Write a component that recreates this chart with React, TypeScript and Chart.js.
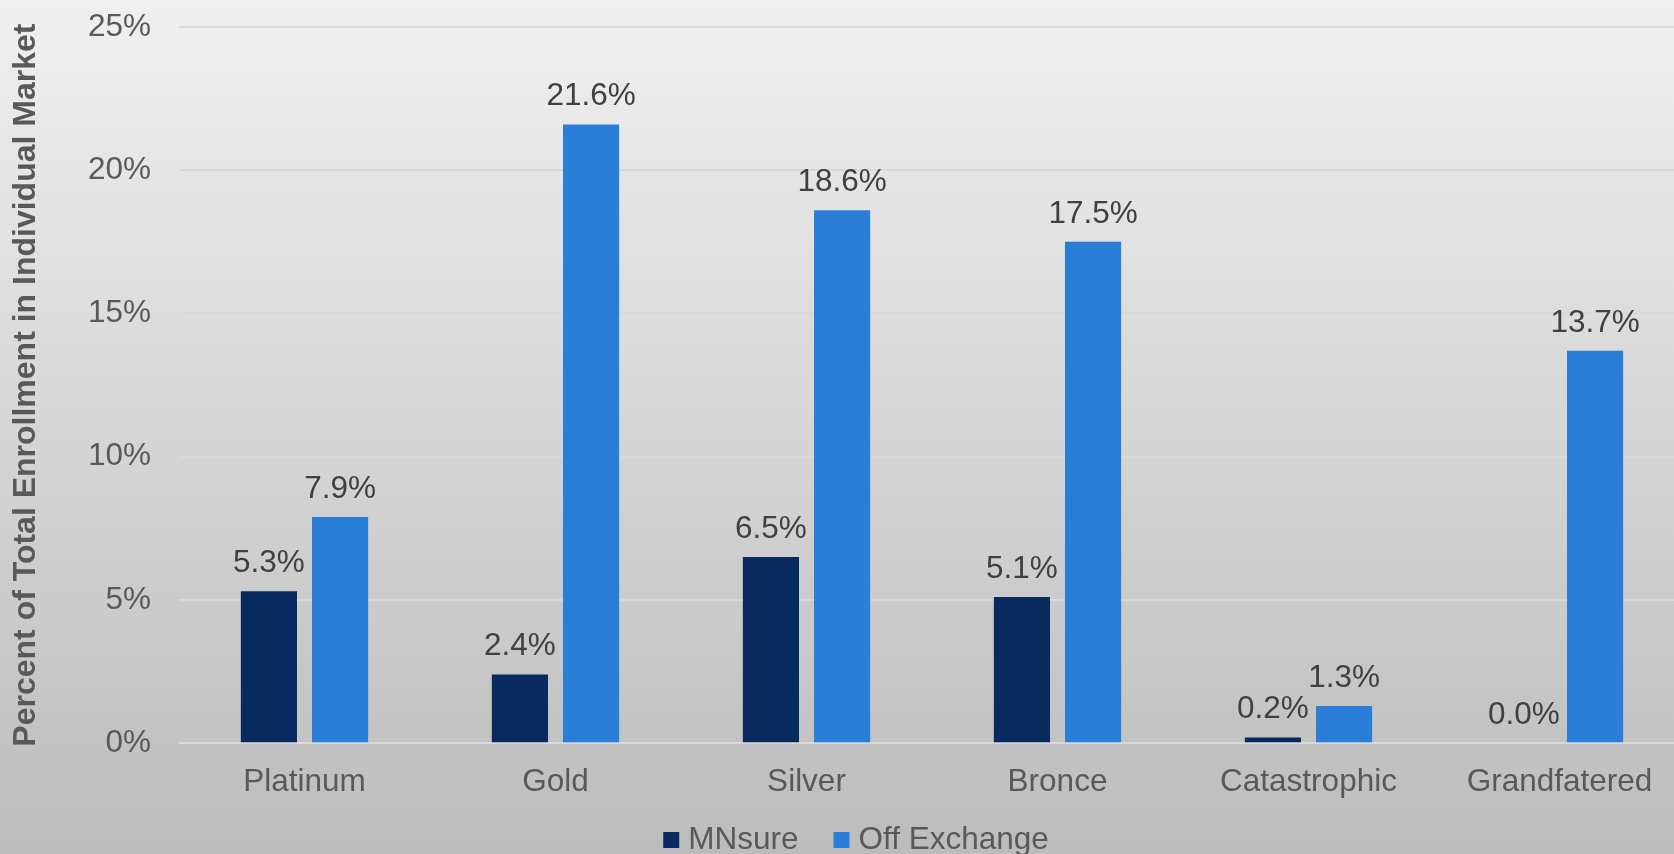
import React, { useEffect, useRef } from 'react';
import { Chart, registerables } from 'chart.js';

Chart.register(...registerables);

const categories = ['Platinum', 'Gold', 'Silver', 'Bronce', 'Catastrophic', 'Grandfatered'];
const mnsureValues = [5.3, 2.4, 6.5, 5.1, 0.2, 0.0];
const offExchangeValues = [7.9, 21.6, 18.6, 17.5, 1.3, 13.7];
const seriesNames = ['MNsure', 'Off Exchange'];
const seriesColors = ['#082A5F', '#2A7ED8'];
const yTickValues = [0, 5, 10, 15, 20, 25];
const yAxisTitle = 'Percent of Total Enrollment in Individual Market';

const FONT = '"Liberation Sans", Arial, Helvetica, sans-serif';

const backgroundPlugin = {
  id: 'bgGradient',
  beforeDraw(chart: any) {
    const { ctx, width, height } = chart;
    const g = ctx.createLinearGradient(0, 0, 0, height);
    g.addColorStop(0, '#f0f0f0');
    g.addColorStop(1, '#bcbcbc');
    ctx.save();
    ctx.fillStyle = g;
    ctx.fillRect(0, 0, width, height);
    ctx.restore();
  },
};

const dataLabelPlugin = {
  id: 'dataLabels',
  afterDatasetsDraw(chart: any) {
    const { ctx } = chart;
    ctx.save();
    ctx.font = `31.5px ${FONT}`;
    ctx.fillStyle = '#404040';
    ctx.textAlign = 'center';
    ctx.textBaseline = 'alphabetic';
    chart.data.datasets.forEach((ds: any, di: number) => {
      const meta = chart.getDatasetMeta(di);
      meta.data.forEach((bar: any, i: number) => {
        const v = ds.data[i];
        ctx.fillText(`${v.toFixed(1)}%`, bar.x, bar.y - 19);
      });
    });
    ctx.restore();
  },
};

const customLegendPlugin = {
  id: 'customLegend',
  afterDraw(chart: any) {
    const { ctx } = chart;
    const box = 16;
    const boxGap = 9;
    const itemGap = 35;
    const centerX = 856;
    const baseline = 849;
    ctx.save();
    ctx.font = `31.5px ${FONT}`;
    const items = chart.data.datasets.map((ds: any) => ({
      label: ds.label,
      color: ds.backgroundColor,
      w: ctx.measureText(ds.label).width,
    }));
    const total =
      items.reduce((s: number, it: any) => s + box + boxGap + it.w, 0) + itemGap * (items.length - 1);
    let x = centerX - total / 2;
    ctx.textBaseline = 'alphabetic';
    ctx.textAlign = 'left';
    items.forEach((it: any) => {
      ctx.fillStyle = it.color;
      ctx.fillRect(x, baseline - 17, box, box);
      ctx.fillStyle = '#595959';
      ctx.fillText(it.label, x + box + boxGap, baseline);
      x += box + boxGap + it.w + itemGap;
    });
    ctx.restore();
  },
};

export default function App() {
  const canvasRef = useRef<HTMLCanvasElement | null>(null);

  useEffect(() => {
    document.body.style.margin = '0';
    const canvas = canvasRef.current;
    if (!canvas) return;
    const chart = new Chart(canvas, {
      type: 'bar',
      data: {
        labels: categories,
        datasets: [
          {
            label: seriesNames[0],
            data: mnsureValues,
            backgroundColor: seriesColors[0],
            borderWidth: 0,
            barPercentage: 0.789,
            categoryPercentage: 0.567,
          },
          {
            label: seriesNames[1],
            data: offExchangeValues,
            backgroundColor: seriesColors[1],
            borderWidth: 0,
            barPercentage: 0.789,
            categoryPercentage: 0.567,
          },
        ],
      },
      options: {
        responsive: false,
        animation: false,
        devicePixelRatio: 1,
        layout: { padding: { top: 27, right: 0, bottom: 41, left: 0 } },
        plugins: {
          legend: { display: false },
          tooltip: { enabled: false },
        },
        scales: {
          x: {
            grid: { display: false },
            border: { display: false },
            ticks: {
              color: '#595959',
              font: { family: FONT, size: 31.5 },
              padding: 12,
              maxRotation: 0,
              autoSkip: false,
            },
          },
          y: {
            min: 0,
            max: 25,
            afterBuildTicks: (s: any) => {
              s.ticks = yTickValues.map((v) => ({ value: v }));
            },
            afterFit: (s: any) => {
              s.width = 179;
              s.paddingTop = 0;
              s.paddingBottom = 0;
            },
            ticks: {
              padding: 28,
              color: '#595959',
              font: { family: FONT, size: 31.5 },
              callback: (v: any) => `${v}%`,
            },
            grid: { color: '#d9d9d9', lineWidth: 2, drawTicks: false },
            border: { display: false },
            title: {
              display: true,
              text: yAxisTitle,
              color: '#595959',
              font: { family: FONT, size: 32, weight: 'bold', lineHeight: 1.2 },
              padding: { top: 7, bottom: 0 },
            },
          },
        },
      },
      plugins: [backgroundPlugin, dataLabelPlugin, customLegendPlugin],
    } as any);
    return () => chart.destroy();
  }, []);

  return (
    <div style={{ width: 1674, height: 854, overflow: 'hidden', position: 'relative' }}>
      <canvas ref={canvasRef} width={1685} height={854} style={{ display: 'block' }} />
    </div>
  );
}
